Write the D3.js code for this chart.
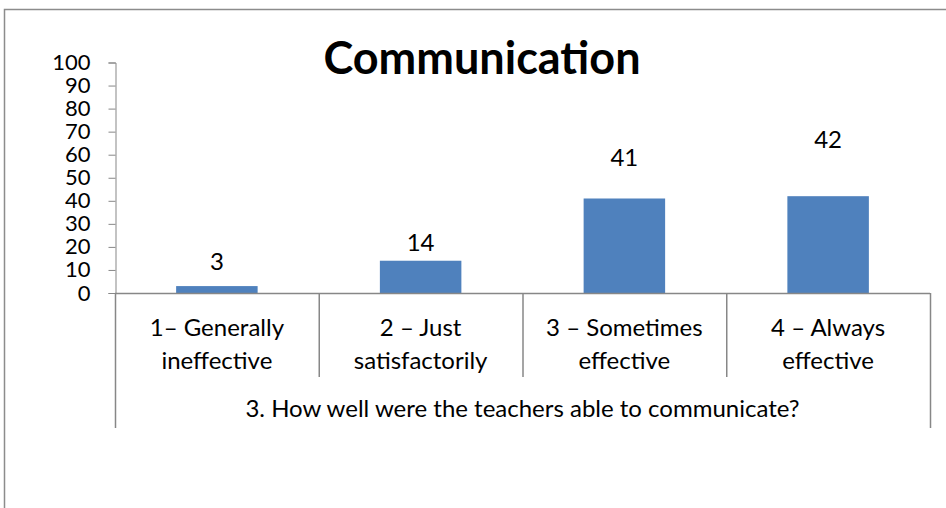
<!DOCTYPE html>
<html>
<head>
<meta charset="utf-8">
<script src="https://cdnjs.cloudflare.com/ajax/libs/d3/7.8.5/d3.min.js"></script>
<style>
  body { margin: 0; background: #fff; }
  text { font-family: Lato, "Open Sans", sans-serif; fill: #000; }
</style>
</head>
<body>
<div class="chart"></div>
<script>
// data
var categories = [
  ["1\u2013 Generally", "ineffective"],
  ["2 \u2013 Just", "satisfactorily"],
  ["3 \u2013 Sometimes", "effective"],
  ["4 \u2013 Always", "effective"]
];
var values = [3, 14, 41, 42];
var yTicks = [0, 10, 20, 30, 40, 50, 60, 70, 80, 90, 100];
var chartTitle = "Communication";
var axisTitle = "3. How well were the teachers able to communicate?";

// the data labels sit at uneven heights in the original
var labelGap = [16, 10, 32, 48];

var W = 946, H = 508;
var svg = d3.select(".chart")
  .append("svg")
    .attr("width", W)
    .attr("height", H);

// outer chart frame (only top and left edges are in view)
svg.append("path")
  .attr("d", "M4.5," + H + "V9.5H" + W)
  .attr("fill", "none")
  .attr("stroke", "#8c8c8c")
  .attr("stroke-width", 1.5);

var x = d3.scaleBand()
  .domain(d3.range(categories.length))
  .range([115, 930])
  .padding(0);

var y = d3.scaleLinear()
  .domain([0, 100])
  .range([293, 62.5]);

var axisColor = "#878787";

// y axis
var yAxis = d3.axisLeft(y)
  .tickValues(yTicks)
  .tickSize(7)
  .tickPadding(18);

var gy = svg.append("g")
  .attr("transform", "translate(115.5,0)")
  .call(yAxis);
gy.select(".domain").attr("stroke", axisColor);
gy.selectAll(".tick line").attr("stroke", axisColor);
gy.selectAll(".tick text")
  .attr("font-size", 22)
  .attr("font-family", "Lato, sans-serif")
  .attr("fill", "#000");

// bars
var barW = x.bandwidth() * 0.4;
svg.selectAll("rect.bar")
  .data(values)
  .enter().append("rect")
    .attr("class", "bar")
    .attr("x", function(d, i){ return x(i) + (x.bandwidth() - barW) / 2; })
    .attr("y", function(d){ return y(d); })
    .attr("width", barW)
    .attr("height", function(d){ return y(0) - y(d); })
    .attr("fill", "#4f81bd");

// data labels
svg.selectAll("text.val")
  .data(values)
  .enter().append("text")
    .attr("class", "val")
    .attr("x", function(d, i){ return x(i) + x.bandwidth() / 2; })
    .attr("y", function(d, i){ return y(d) - labelGap[i]; })
    .attr("text-anchor", "middle")
    .attr("font-size", 24)
    .text(function(d){ return d; });

// x axis line
svg.append("line")
  .attr("x1", 115).attr("x2", 930)
  .attr("y1", y(0) + 0.5).attr("y2", y(0) + 0.5)
  .attr("stroke", axisColor)
  .attr("stroke-width", 1.5);

// category dividers
var edges = d3.range(categories.length + 1);
svg.selectAll("line.div")
  .data(edges)
  .enter().append("line")
    .attr("class", "div")
    .attr("x1", function(i){ return i < categories.length ? x(i) + 0.5 : x.range()[1] + 0.5; })
    .attr("x2", function(i){ return i < categories.length ? x(i) + 0.5 : x.range()[1] + 0.5; })
    .attr("y1", y(0))
    .attr("y2", function(i){ return (i === 0 || i === categories.length) ? 428 : 377; })
    .attr("stroke", axisColor)
    .attr("stroke-width", 1.5);

// category labels
var cat = svg.selectAll("text.cat")
  .data(categories)
  .enter().append("text")
    .attr("class", "cat")
    .attr("text-anchor", "middle")
    .attr("font-size", 24);
cat.each(function(lines, i){
  d3.select(this).selectAll("tspan")
    .data(lines)
    .enter().append("tspan")
      .attr("x", x(i) + x.bandwidth() / 2)
      .attr("y", function(d, j){ return 336 + j * 33; })
      .text(function(d){ return d; });
});

// axis title
svg.append("text")
  .attr("x", (x.range()[0] + x.range()[1]) / 2)
  .attr("y", 417)
  .attr("text-anchor", "middle")
  .attr("font-size", 24)
  .text(axisTitle);

// chart title
svg.append("text")
  .attr("x", 482)
  .attr("y", 74)
  .attr("text-anchor", "middle")
  .attr("font-size", 45)
  .attr("font-weight", "bold")
  .text(chartTitle);
</script>
</body>
</html>
